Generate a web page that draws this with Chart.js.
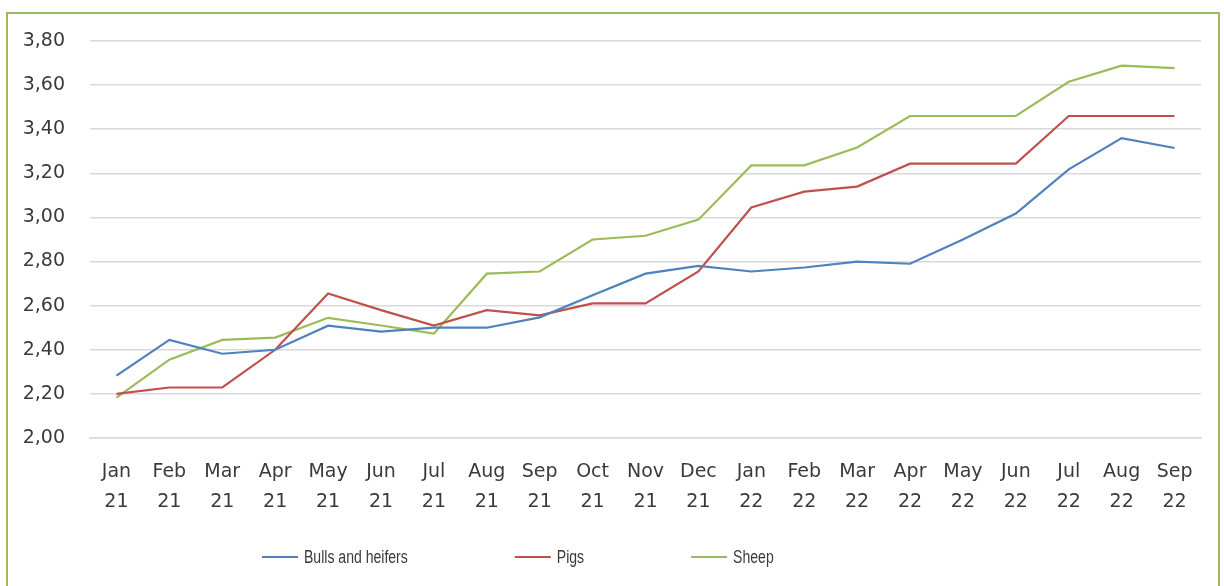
<!DOCTYPE html>
<html>
<head>
<meta charset="utf-8">
<script src="https://cdn.jsdelivr.net/npm/chart.js@4"></script>
<style>
  html, body { margin: 0; padding: 0; background: #fff; overflow: hidden; }
  #frame {
    position: absolute; left: 6px; top: 12px; width: 1214px; height: 600px;
    border: 2px solid #9bbb59; box-sizing: border-box;
  }
  #chart { position: absolute; left: 0; top: 0; }
</style>
</head>
<body>
<div id="frame"></div>
<canvas id="chart" width="1224" height="586"></canvas>
<script>
const months = [
  ["Jan", "21"], ["Feb", "21"], ["Mar", "21"], ["Apr", "21"], ["May", "21"], ["Jun", "21"],
  ["Jul", "21"], ["Aug", "21"], ["Sep", "21"], ["Oct", "21"], ["Nov", "21"], ["Dec", "21"],
  ["Jan", "22"], ["Feb", "22"], ["Mar", "22"], ["Apr", "22"], ["May", "22"], ["Jun", "22"],
  ["Jul", "22"], ["Aug", "22"], ["Sep", "22"]
];
const bullsAndHeifers = [2.283, 2.445, 2.382, 2.40, 2.509, 2.482, 2.50, 2.50, 2.547, 2.647, 2.745,
  2.78, 2.755, 2.773, 2.80, 2.79, 2.90, 3.018, 3.218, 3.36, 3.315];
const pigs = [2.20, 2.229, 2.229, 2.40, 2.655, 2.58, 2.51, 2.58, 2.556, 2.61, 2.61,
  2.755, 3.045, 3.117, 3.14, 3.244, 3.244, 3.244, 3.46, 3.46, 3.46];
const sheep = [2.183, 2.355, 2.445, 2.455, 2.545, 2.51, 2.473, 2.745, 2.755, 2.90, 2.917,
  2.99, 3.236, 3.236, 3.317, 3.46, 3.46, 3.46, 3.615, 3.688, 3.677];
const yMin = 2.0;
const yMax = 3.8;
const yStep = 0.2;

const textColor = "#3a3a3a";
const gridColor = "#d9d9d9";
const tickFont = { family: "'DejaVu Sans', sans-serif", size: 19, lineHeight: 1.58 };

// legend drawn by hand so the wide gaps between items can be kept
const wideLegend = {
  id: "wideLegend",
  afterDraw(chart) {
    const ctx = chart.ctx;
    const y = 557;
    const lineW = 36, textGap = 6, itemGap = 107;
    const squeeze = 0.78; // narrow the text like the original's Calibri
    let x = 262;
    ctx.save();
    ctx.font = "18px 'Liberation Sans', sans-serif";
    ctx.textBaseline = "middle";
    chart.data.datasets.forEach((ds) => {
      ctx.strokeStyle = ds.borderColor;
      ctx.lineWidth = 2;
      ctx.beginPath();
      ctx.moveTo(x, y);
      ctx.lineTo(x + lineW, y);
      ctx.stroke();
      x += lineW + textGap;
      ctx.save();
      ctx.translate(x, y + 1);
      ctx.scale(squeeze, 1);
      ctx.fillStyle = textColor;
      ctx.fillText(ds.label, 0, 0);
      ctx.restore();
      x += ctx.measureText(ds.label).width * squeeze + itemGap;
    });
    ctx.restore();
  }
};

const makeSet = (label, data, color) => ({
  label, data,
  borderColor: color,
  backgroundColor: color,
  borderWidth: 2.2,
  pointRadius: 0,
  tension: 0,
  fill: false
});

new Chart(document.getElementById("chart"), {
  type: "line",
  data: {
    labels: months,
    datasets: [
      makeSet("Bulls and heifers", bullsAndHeifers, "#4f81bd"),
      makeSet("Pigs", pigs, "#c0504d"),
      makeSet("Sheep", sheep, "#9bbb59")
    ]
  },
  options: {
    responsive: false,
    animation: false,
    layout: { padding: { top: 41, right: 23, left: 0, bottom: 0 } },
    plugins: {
      legend: { display: false },
      tooltip: { enabled: false }
    },
    scales: {
      x: {
        offset: true,
        grid: { display: false, drawTicks: false },
        border: { display: true, color: gridColor, width: 1.5 },
        ticks: { color: textColor, font: tickFont, padding: 19, maxRotation: 0, autoSkip: false },
        afterFit(scale) { scale.height = 148; }
      },
      y: {
        min: yMin,
        max: yMax,
        grid: { color: gridColor, lineWidth: 1.5, drawTicks: false },
        border: { display: false },
        ticks: {
          stepSize: yStep,
          color: textColor,
          font: tickFont,
          padding: 25,
          callback: (v) => v.toFixed(2).replace(".", ",")
        },
        afterFit(scale) { scale.width = 90; }
      }
    }
  },
  plugins: [wideLegend]
});
</script>
</body>
</html>
